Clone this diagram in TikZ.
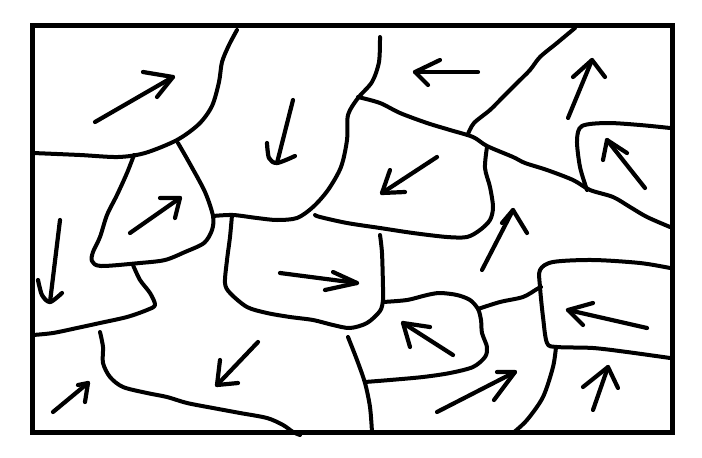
\documentclass[tikz,border=0pt]{standalone}
\begin{document}
\begin{tikzpicture}[x=1pt,y=-1pt,
  ink/.style={line width=4pt,line cap=round,line join=round},
  framebox/.style={line width=5pt,line join=miter},
  shaft/.style={line width=4.2pt,line cap=round},
  head/.style={line width=4.2pt,line cap=round,line join=round}]
\useasboundingbox (0,0) rectangle (702,458);
\fill[white] (0,0) rectangle (702,458);
% frame
\draw[framebox] (32,25) rectangle (672,432);
% grain boundaries
\draw[ink] plot[smooth] coordinates {(237,30) (229,45) (222,62) (219,82) (212,106) (199,124) (177,140) (145,153) (118,157) (80,155) (33,153)};
\draw[ink] plot[smooth] coordinates {(134,155) (127,173) (117,195) (107,215) (100,237) (93,252) (92,261) (101,266) (140,263) (165,260) (185,252) (204,243) (212,230) (213,216) (205,192) (190,164) (178,143)};
\draw[ink] plot[smooth] coordinates {(380,37) (379,62) (372,82) (358,98) (348,115) (347,140) (341,167) (328,190) (313,207) (297,218) (277,220) (257,218) (233,215) (213,216)};
\draw[ink] plot[smooth] coordinates {(358,97) (380,103) (400,113) (427,123) (450,130) (473,137) (487,146) (513,157) (525,163) (547,170) (573,180) (590,190) (613,197) (630,207) (647,217) (670,227)};
\draw[ink] plot[smooth] coordinates {(575,28) (557,43) (540,57) (530,70) (517,83) (503,97) (490,110) (474,123) (468,134)};
\draw[ink] plot[smooth] coordinates {(670,128) (640,125) (607,123) (582,126) (577,140) (580,167) (587,190)};
\draw[ink] plot[smooth] coordinates {(487,147) (485,168) (490,187) (493,207) (490,220) (480,230) (467,237) (447,237) (413,233) (380,228) (347,223) (320,217) (315,215)};
\draw[ink] plot[smooth] coordinates {(232,215) (230,237) (227,260) (225,283) (230,293) (247,307) (267,313) (290,317) (313,320) (333,325) (350,328) (367,323) (380,311) (383,300) (383,287) (382,253) (380,235)};
\draw[ink] plot[smooth] coordinates {(383,302) (407,300) (427,295) (440,293) (457,295) (470,300) (478,309) (481,320) (482,333) (487,347) (485,357) (473,367) (450,373) (423,377) (390,380) (365,382)};
\draw[ink] plot[smooth] coordinates {(348,337) (357,360) (365,383) (370,407) (372,432)};
\draw[ink] plot[smooth] coordinates {(478,309) (500,302) (523,297) (537,289) (541,287)};
\draw[ink] plot[smooth] coordinates {(670,268) (640,263) (593,260) (553,262) (540,270) (540,287) (543,317) (547,343) (557,347) (593,348) (627,352) (670,358)};
\draw[ink] plot[smooth] coordinates {(556,347) (553,367) (543,397) (527,420) (513,433)};
\draw[ink] plot[smooth] coordinates {(133,265) (140,280) (150,293) (155,305) (147,310) (127,317) (100,323) (77,328) (53,333) (33,335)};
\draw[ink] plot[smooth] coordinates {(100,332) (103,347) (103,363) (110,377) (123,387) (147,393) (167,397) (187,403) (213,408) (240,413) (267,418) (283,425) (293,432) (300,435)};
% arrows
\draw[shaft] (95,122) -- (173,77);  \draw[head] (143,72) -- (173,77) -- (157,97);
\draw[shaft] (293,100) -- (277,163); \draw[head] plot[smooth] coordinates {(267,143) (269,158) (277,163) (295,156)};
\draw[shaft] (130,233) -- (180,198); \draw[head] (160,198) -- (180,198) -- (175,218);
\draw[shaft] (60,220) -- (50,302);   \draw[head] plot[smooth] coordinates {(38,280) (42,295) (50,302) (62,293)};
\draw[shaft] (478,72) -- (415,72);   \draw[head] (440,60) -- (415,72) -- (428,85);
\draw[shaft] (568,118) -- (592,60);  \draw[head] (573,77) -- (592,60) -- (605,77);
\draw[shaft] (645,188) -- (607,140); \draw[head] (603,160) -- (607,140) -- (627,153);
\draw[shaft] (437,157) -- (382,193); \draw[head] (390,170) -- (382,193) -- (405,192);
\draw[shaft] (482,270) -- (513,210); \draw[head] (502,223) -- (513,210) -- (527,233);
\draw[shaft] (280,273) -- (357,283); \draw[head] (333,272) -- (357,283) -- (325,290);
\draw[shaft] (453,355) -- (403,323); \draw[head] (410,347) -- (403,323) -- (430,327);
\draw[shaft] (647,328) -- (568,310); \draw[head] (593,303) -- (568,310) -- (583,325);
\draw[shaft] (437,412) -- (515,372); \draw[head] (497,372) -- (515,372) -- (494,400);
\draw[shaft] (593,410) -- (608,367); \draw[head] (583,387) -- (608,367) -- (618,388);
\draw[shaft] (258,342) -- (217,385); \draw[head] (220,360) -- (217,385) -- (238,383);
\draw[shaft] (53,412) -- (88,383);   \draw[head] (78,385) -- (88,383) -- (85,402);
\end{tikzpicture}
\end{document}
